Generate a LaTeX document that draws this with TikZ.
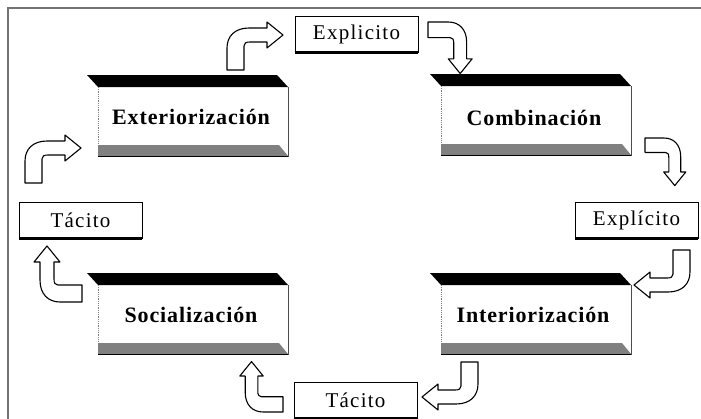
\documentclass[tikz,border=0pt]{standalone}
\usepackage{fontspec}
\setmainfont{Liberation Serif}
\newfontfamily\kfonttag{Liberation Serif}[LetterSpace=6]
\newfontfamily\kfontbox{Liberation Serif}[LetterSpace=4]
\newcommand\ktagfont{\kfonttag\fontsize{21}{24}\selectfont}
\newcommand\kboxfont{\kfontbox\bfseries\fontsize{22}{26}\selectfont}
\begin{document}
\begin{tikzpicture}[x=1pt,y=-1pt,
  blockarrow/.style={draw=black, fill=white, line width=1.1pt, line join=round},
  bandtop/.style={fill=black},
  bandbot/.style={fill=black!50},
  tagbox/.style={draw=black, line width=0.8pt, fill=white, minimum width=123pt, minimum height=36pt, inner sep=0pt, font=\ktagfont},
  boxlabel/.style={font=\kboxfont, inner sep=0pt},
  kbox/.pic={
    \fill[bandtop] (0,0) -- (190,0) -- (201,12) -- (11,12) -- cycle;
    \draw[gray, densely dotted, line width=0.8pt] (11,12) -- (11,70);
    \draw[black!70, line width=0.8pt] (201,12) -- (201,82);
    \fill[bandbot] (11,70) -- (192,70) -- (201,81) -- (11,81) -- cycle;
    \draw[black, line width=1.4pt] (11,81.5) -- (201,81.5);
  },
  bentarrow/.pic={
    \draw[blockarrow] (0,0) -- (17,0) -- (17,-24) .. controls (17,-27) and (19,-28) .. (23,-28) -- (40,-28) -- (40,-22) -- (56,-35) -- (40,-48) -- (40,-42) -- (22,-42) .. controls (8,-42) and (0,-34) .. (0,-22) -- cycle;
  }
]
\useasboundingbox (0,0) rectangle (701,418);
\fill[white] (0,0) rectangle (701,418);
% frame
\draw[black!55, line width=2pt] (8,420) -- (8,8) -- (703,8);

% 3D boxes
\pic at (87,75) {kbox};
\pic at (430,74) {kbox};
\pic at (87,273) {kbox};
\pic at (430,273) {kbox};
\node[boxlabel] (ext) at (191,117) {Exteriorización};
\node[boxlabel] (com) at (534,118) {Combinación};
\node[boxlabel] (soc) at (191,315) {Socialización};
\node[boxlabel] (int) at (533,315) {Interiorización};

% tag boxes
\node[tagbox] (t1) at (356.5,34) {Explicito};
\node[tagbox] (t2) at (636.5,220) {Explícito};
\node[tagbox] (t3) at (80.5,220) {Tácito};
\node[tagbox] (t4) at (355.5,400) {Tácito};
\foreach \t in {t1,t2,t3,t4}{
  \draw[line width=2.2pt] (\t.south west) -- (\t.south east);
  \draw[line width=1.6pt] (\t.north east) -- (\t.south east);
}

% bent arrows
\pic at (227,70) {bentarrow};
\pic[rotate=-90, scale=0.92] at (428,22) {bentarrow};
\pic[rotate=-90, scale=0.85] at (645,138) {bentarrow};
\pic[rotate=180] at (690,250) {bentarrow};
\pic[rotate=180] at (478,362) {bentarrow};
\pic[rotate=90, scale=0.9] at (283,412) {bentarrow};
\pic[rotate=90] at (82,302) {bentarrow};
\pic at (25,183) {bentarrow};
\end{tikzpicture}
\end{document}
